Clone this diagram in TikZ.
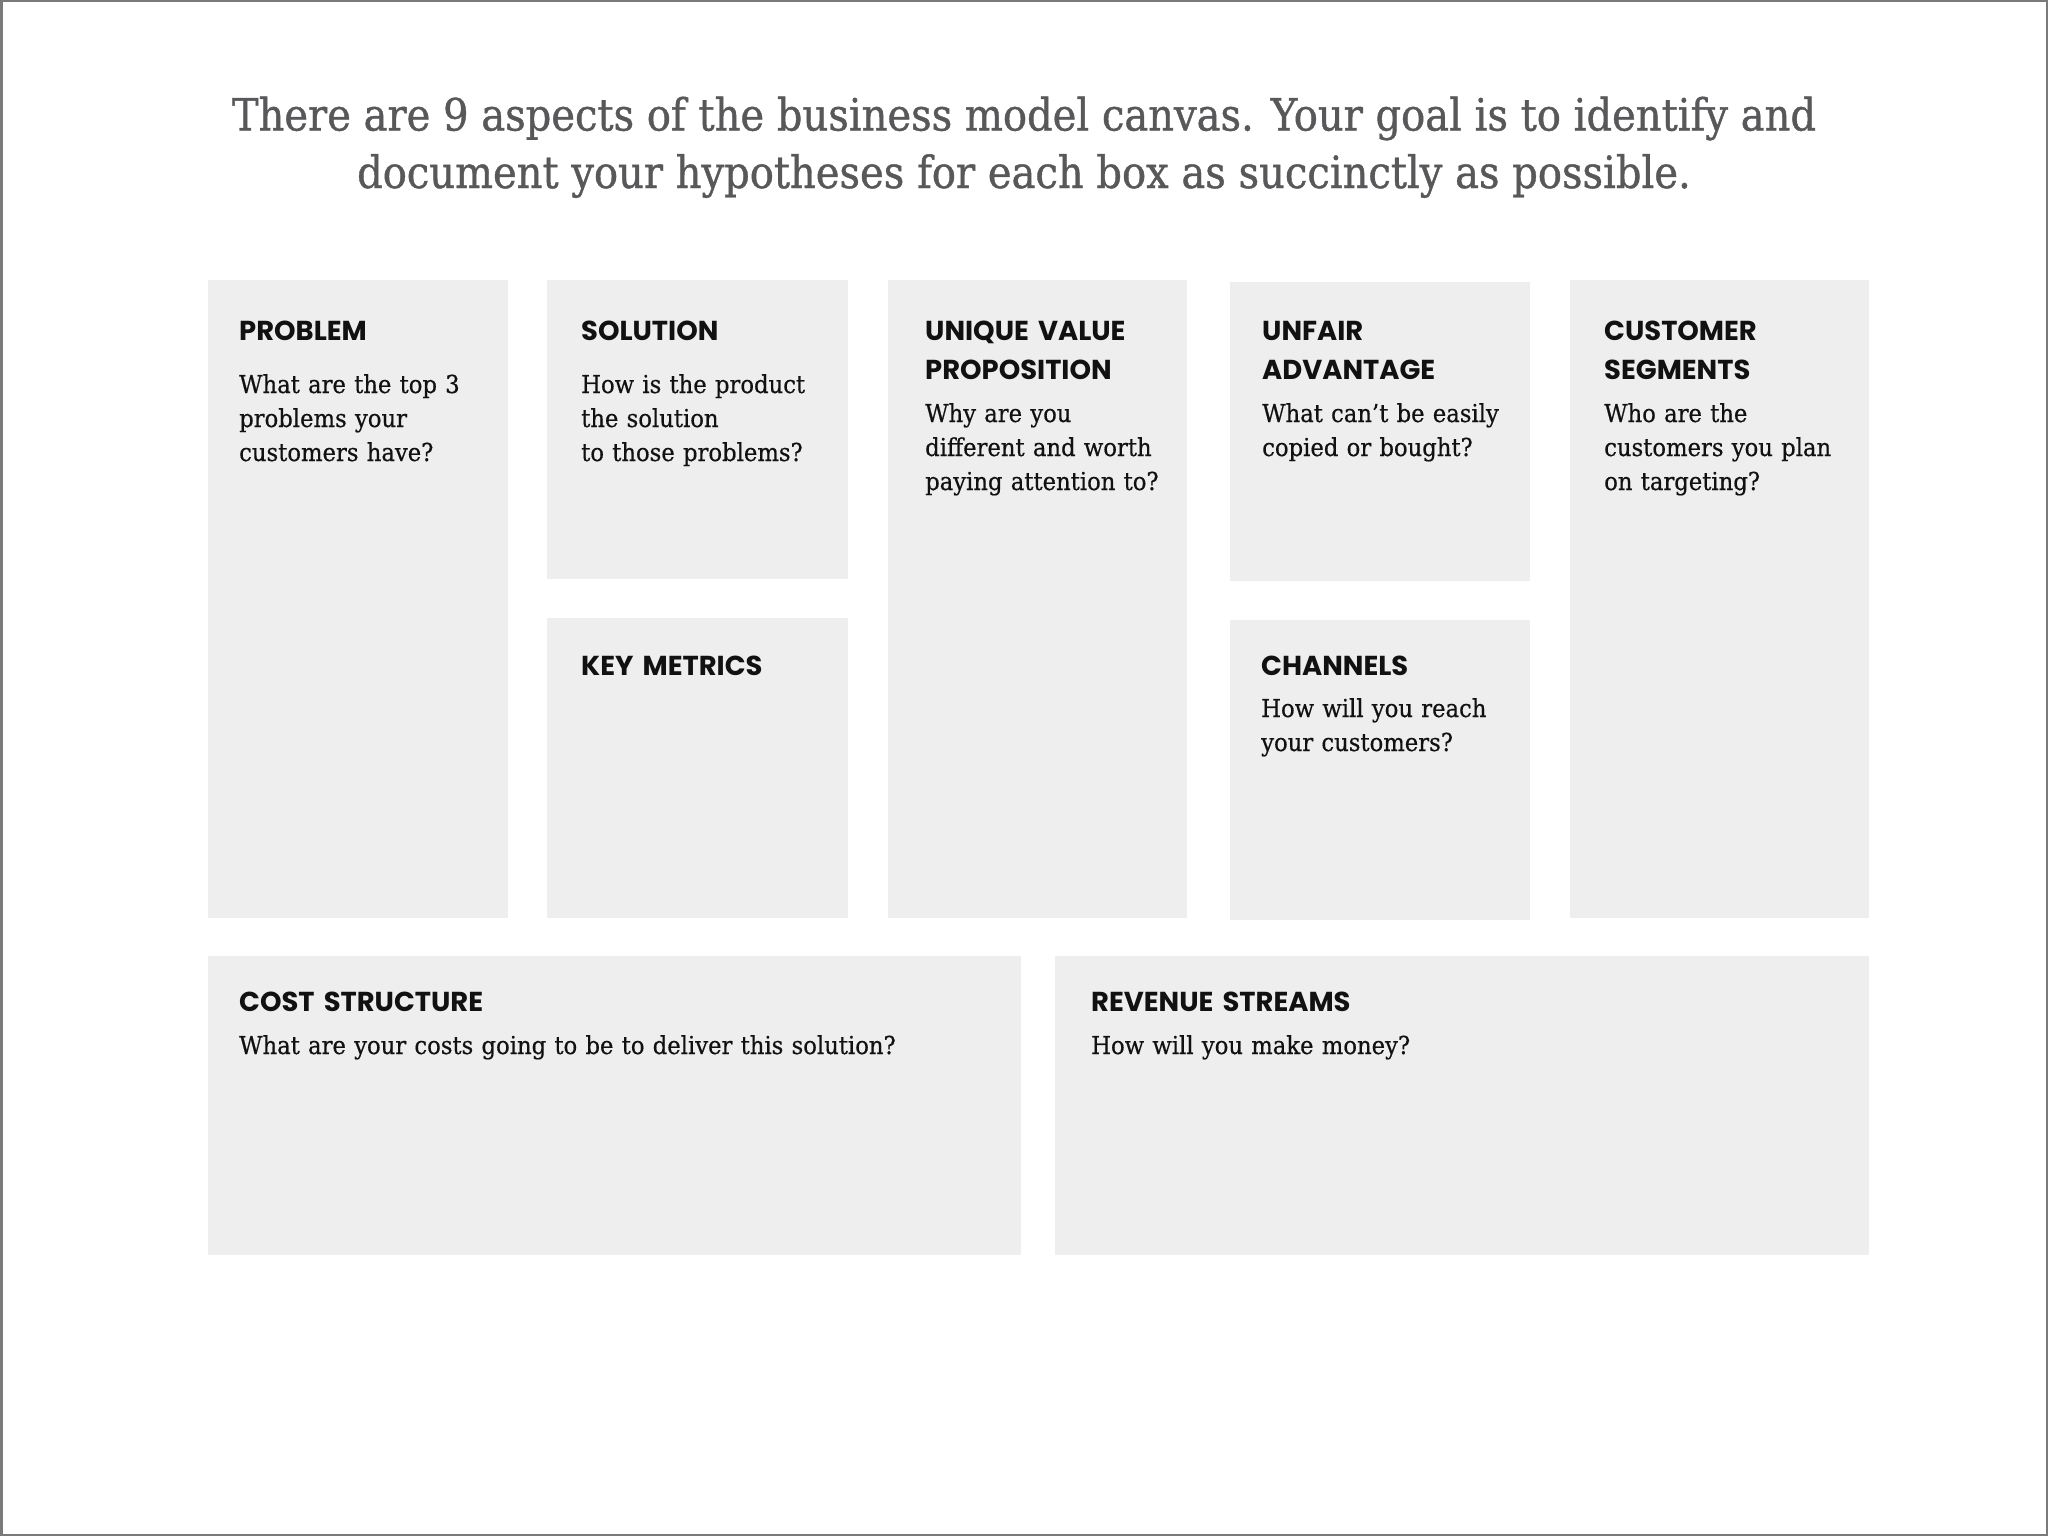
\documentclass[tikz,border=0pt]{standalone}
\usepackage{fontspec}
\setmainfont{DejaVu Serif}
\newfontfamily\bodyfont{DejaVu Serif}[FakeStretch=0.92,FakeBold=0.5]
\newfontfamily\titlefont{DejaVu Serif}[FakeStretch=0.9,FakeBold=0.9]
\newfontfamily\hdrfont{Poppins}
\definecolor{boxfill}{HTML}{EEEEEE}
\definecolor{titlegray}{HTML}{58585A}
\definecolor{framegray}{HTML}{7A7A7A}
\definecolor{ink}{HTML}{111111}
\tikzset{
  canvasbox/.style={fill=boxfill, draw=none, anchor=north west, inner sep=0pt},
  hdr/.style={anchor=base west, inner sep=0pt, text=ink, text width=320pt, align=left,
    font={\hdrfont\bfseries\fontsize{27.4}{39}\selectfont}},
  body/.style={anchor=base west, inner sep=0pt, text=ink, text width=900pt, align=left,
    font={\bodyfont\fontsize{24.7}{34}\selectfont}},
  ttl/.style={anchor=base, inner sep=0pt, text=titlegray, align=center,
    font={\titlefont\fontsize{44.5}{57.5}\selectfont}}
}
\begin{document}
\begin{tikzpicture}[x=1pt,y=-1pt]
\useasboundingbox (0,0) rectangle (2048,1536);
\draw[framegray, line width=2.5pt] (1.25,1.25) rectangle (2046.75,1534.75);
% title
\node[ttl] (title) at (1024,188) {There are 9 aspects of the business model canvas. Your goal is to identify and\\document your hypotheses for each box as succinctly as possible.};
% boxes
\node[canvasbox, minimum width=300pt, minimum height=638pt] (problem) at (208,280) {};
\node[canvasbox, minimum width=301pt, minimum height=299pt] (solution) at (547,280) {};
\node[canvasbox, minimum width=301pt, minimum height=300pt] (metrics) at (547,618) {};
\node[canvasbox, minimum width=299pt, minimum height=638pt] (uvp) at (888,280) {};
\node[canvasbox, minimum width=300pt, minimum height=299pt] (unfair) at (1230,282) {};
\node[canvasbox, minimum width=300pt, minimum height=300pt] (channels) at (1230,620) {};
\node[canvasbox, minimum width=299pt, minimum height=638pt] (segments) at (1570,280) {};
\node[canvasbox, minimum width=813pt, minimum height=299pt] (cost) at (208,956) {};
\node[canvasbox, minimum width=814pt, minimum height=299pt] (revenue) at (1055,956) {};
% texts
\node[hdr] (problem-h) at (239,340) {PROBLEM};
\node[body] (problem-b) at (239,393) {What are the top 3\\problems your\\customers have?};
\node[hdr] (solution-h) at (581,340) {SOLUTION};
\node[body] (solution-b) at (581,393) {How is the product\\the solution\\to those problems?};
\node[hdr] (metrics-h) at (581,675) {KEY METRICS};
\node[hdr] (uvp-h) at (925,340) {UNIQUE VALUE\\PROPOSITION};
\node[body] (uvp-b) at (925,422) {Why are you\\different and worth\\paying attention to?};
\node[hdr] (unfair-h) at (1262,340) {UNFAIR\\ADVANTAGE};
\node[body] (unfair-b) at (1262,422) {What can’t be easily\\copied or bought?};
\node[hdr] (channels-h) at (1261,675) {CHANNELS};
\node[body] (channels-b) at (1261,717) {How will you reach\\your customers?};
\node[hdr] (segments-h) at (1604,340) {CUSTOMER\\SEGMENTS};
\node[body] (segments-b) at (1604,422) {Who are the\\customers you plan\\on targeting?};
\node[hdr] (cost-h) at (239,1011) {COST STRUCTURE};
\node[body] (cost-b) at (239,1054) {What are your costs going to be to deliver this solution?};
\node[hdr] (revenue-h) at (1091,1011) {REVENUE STREAMS};
\node[body] (revenue-b) at (1091,1054) {How will you make money?};
\end{tikzpicture}
\end{document}
